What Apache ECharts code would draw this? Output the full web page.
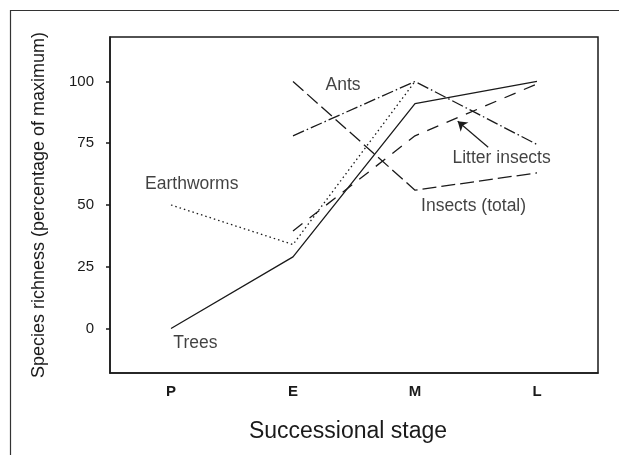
<!DOCTYPE html>
<html>
<head>
<meta charset="utf-8">
<script src="https://cdn.jsdelivr.net/npm/echarts@6/dist/echarts.min.js"></script>
<style>
  html, body { margin: 0; padding: 0; background: #fff; }
  #main { width: 619px; height: 455px; }
</style>
</head>
<body>
<div id="main"></div>
<script>
var stages = ["P", "E", "M", "L"];
var yTicks = [0, 25, 50, 75, 100];

var trees = [0, 29, 91, 100];
var earthworms = [50, 34, 100, null];
var ants = [null, 78, 100, 74.5];
var insectsTotal = [null, 100, 56, 63];
var litterInsects = [null, 39.5, 78, 99];

// text labels placed in data units (x = stage index)
var labelNames = ["Ants", "Earthworms", "Litter insects", "Insects (total)", "Trees"];
var labelX = [1.41, 0.17, 2.71, 2.48, 0.2];
var labelY = [98.4, 58.3, 68.8, 49.4, -6.1];

// arrow from "Litter insects" to its line
var arrowFrom = [2.6, 73.4];
var arrowTo = [2.35, 83.9];

var ink = "#1a1a1a";
var font = "'Liberation Sans', Arial, sans-serif";

function lineSeries(name, data, type) {
  return {
    name: name,
    type: "line",
    data: data,
    symbol: "none",
    connectNulls: false,
    lineStyle: { color: ink, width: 1.3, type: type }
  };
}

var chart = echarts.init(document.getElementById("main"));

var option = {
  animation: false,
  backgroundColor: "#fff",
  grid: {
    left: 110, right: 21, top: 37, bottom: 82,
    show: true, borderColor: ink, borderWidth: 1.5
  },
  graphic: [{
    type: "rect",
    left: 8, top: 8,
    shape: { width: 640, height: 480 },
    style: { fill: "none", stroke: "#333", lineWidth: 1.2 },
    silent: true
  }],
  xAxis: [{
    type: "category",
    data: stages,
    boundaryGap: true,
    axisLine: { onZero: false, lineStyle: { color: ink, width: 1.5 } },
    axisTick: { alignWithLabel: true, length: 5, lineStyle: { color: ink, width: 1.5 } },
    axisLabel: { color: ink, fontFamily: font, fontSize: 15, fontWeight: "bold", margin: 11 },
    name: "Successional stage",
    nameLocation: "middle",
    nameGap: 47,
    nameTextStyle: { color: ink, fontFamily: font, fontSize: 23, padding: [0, 12, 0, 0] }
  }, {
    type: "value",
    min: -0.5, max: 3.5,
    show: false,
    axisLine: { onZero: false }
  }],
  yAxis: {
    type: "value",
    min: -18, max: 118,
    splitLine: { show: false },
    axisLine: { show: true, onZero: false, lineStyle: { color: ink, width: 1.5 } },
    axisTick: { show: true, length: 4, customValues: yTicks, lineStyle: { color: ink, width: 1.5 } },
    axisLabel: { customValues: yTicks, color: ink, fontFamily: font, fontSize: 15, margin: 16 },
    name: "Species richness (percentage of maximum)",
    nameLocation: "middle",
    nameGap: 62,
    nameTextStyle: { color: ink, fontFamily: font, fontSize: 18 }
  },
  series: [
    lineSeries("Trees", trees, "solid"),
    lineSeries("Earthworms", earthworms, [1.5, 3]),
    lineSeries("Ants", ants, [12, 3, 1.5, 3]),
    lineSeries("Insects (total)", insectsTotal, [14, 5]),
    lineSeries("Litter insects", litterInsects, [12, 9]),
    {
      type: "scatter",
      xAxisIndex: 1,
      symbolSize: 1,
      itemStyle: { color: "rgba(0,0,0,0)" },
      data: labelNames.map(function (n, i) {
        return { name: n, value: [labelX[i], labelY[i]] };
      }),
      label: {
        show: true,
        position: "inside",
        formatter: "{b}",
        color: "#111",
        fontFamily: font,
        fontSize: 17.5
      },
      labelLayout: { hideOverlap: false }
    },
    {
      type: "lines",
      coordinateSystem: "cartesian2d",
      xAxisIndex: 1,
      symbol: ["none", "arrow"],
      symbolSize: 9,
      lineStyle: { color: ink, width: 1.2, opacity: 1 },
      data: [{ coords: [arrowFrom, arrowTo] }]
    }
  ]
};

chart.setOption(option);
</script>
</body>
</html>
